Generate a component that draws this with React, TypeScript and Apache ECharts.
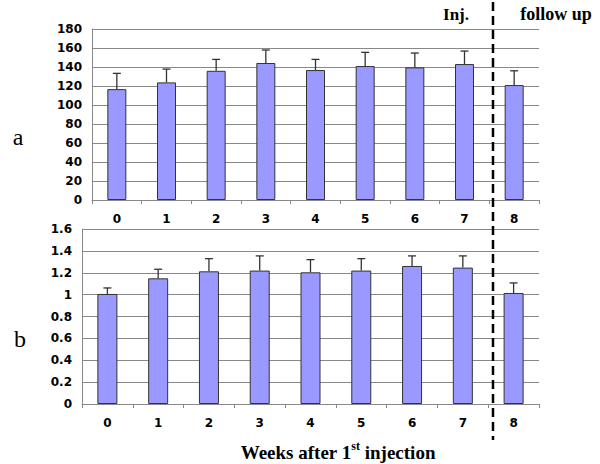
import React, { useEffect, useRef } from "react";
import * as echarts from "echarts";

const weeks = ["0", "1", "2", "3", "4", "5", "6", "7", "8"];
const meanA = [116.7, 123.8, 136, 144.2, 136.8, 141, 139.6, 143.1, 121];
const errA = [16.6, 14, 12, 13.7, 11.2, 14.4, 15.1, 13.7, 15];
const meanB = [1.006, 1.149, 1.213, 1.22, 1.204, 1.22, 1.262, 1.247, 1.015];
const errB = [0.055, 0.083, 0.116, 0.134, 0.116, 0.109, 0.092, 0.107, 0.092];

const GRID_GRAY = "#888888";
const BAR_FILL = "#9999FF";
const BAR_EDGE = "#333333";
const SANS = "'DejaVu Sans', Arial, sans-serif";
const SERIF = "'Liberation Serif', 'Times New Roman', serif";

function errorSeries(mean: number[], err: number[], idx: number) {
  return {
    type: "custom",
    xAxisIndex: idx,
    yAxisIndex: idx,
    z: 1,
    data: mean.map((m, i) => [i, m, m + err[i]]),
    renderItem: (params: any, api: any) => {
      const i = api.value(0);
      const base = api.coord([i, api.value(1)]);
      const top = api.coord([i, api.value(2)]);
      const half = 4;
      return {
        type: "group",
        children: [
          {
            type: "line",
            shape: { x1: base[0], y1: base[1], x2: top[0], y2: top[1] },
            style: { stroke: BAR_EDGE, lineWidth: 1.3 },
          },
          {
            type: "line",
            shape: { x1: top[0] - half, y1: top[1], x2: top[0] + half, y2: top[1] },
            style: { stroke: BAR_EDGE, lineWidth: 1.3 },
          },
        ],
      };
    },
  };
}

function xAxisCfg(gridIndex: number) {
  return {
    type: "category",
    gridIndex,
    data: weeks,
    axisLine: { show: true, lineStyle: { color: GRID_GRAY, width: 1 } },
    axisTick: { show: true, length: 4, lineStyle: { color: GRID_GRAY } },
    axisLabel: {
      margin: 13,
      fontFamily: SANS,
      fontWeight: "bold",
      fontSize: 12,
      color: "#000",
    },
  };
}

function yAxisCfg(gridIndex: number, max: number, interval: number) {
  return {
    type: "value",
    gridIndex,
    min: 0,
    max,
    interval,
    axisLine: { show: true, lineStyle: { color: GRID_GRAY, width: 1 } },
    axisTick: { show: false },
    splitLine: { show: true, lineStyle: { color: GRID_GRAY, width: 1 } },
    axisLabel: {
      margin: 10,
      fontFamily: SANS,
      fontWeight: "bold",
      fontSize: 12,
      color: "#000",
    },
  };
}

export default function App() {
  const ref = useRef<HTMLDivElement>(null);
  useEffect(() => {
    if (!ref.current) return;
    const chart = echarts.init(ref.current, undefined, { renderer: "svg" });
    chart.setOption({
      animation: false,
      backgroundColor: "#ffffff",
      grid: [
        { left: 92, right: 61, top: 29, height: 171 },
        { left: 82, right: 61, top: 229, height: 175 },
      ],
      xAxis: [xAxisCfg(0), xAxisCfg(1)],
      yAxis: [yAxisCfg(0, 180, 20), yAxisCfg(1, 1.6, 0.2)],
      series: [
        {
          type: "bar",
          xAxisIndex: 0,
          yAxisIndex: 0,
          data: meanA,
          barWidth: 19,
          z: 2,
          itemStyle: { color: BAR_FILL, borderColor: BAR_EDGE, borderWidth: 1 },
        },
        errorSeries(meanA, errA, 0),
        {
          type: "bar",
          xAxisIndex: 1,
          yAxisIndex: 1,
          data: meanB,
          barWidth: 20,
          z: 2,
          itemStyle: { color: BAR_FILL, borderColor: BAR_EDGE, borderWidth: 1 },
        },
        errorSeries(meanB, errB, 1),
      ],
      graphic: [
        {
          type: "line",
          shape: { x1: 493, y1: 2, x2: 493, y2: 440 },
          style: { stroke: "#000", lineWidth: 2.5, lineDash: [9, 5] },
          z: 10,
        },
        {
          type: "text",
          x: 456,
          y: 14,
          style: {
            text: "Inj.",
            font: `bold 17px ${SERIF}`,
            fill: "#000",
            align: "center",
            verticalAlign: "middle",
          },
        },
        {
          type: "text",
          x: 556,
          y: 14,
          style: {
            text: "follow up",
            font: `bold 18px ${SERIF}`,
            fill: "#000",
            align: "center",
            verticalAlign: "middle",
          },
        },
        {
          type: "text",
          x: 18,
          y: 137,
          style: {
            text: "a",
            font: `24px ${SERIF}`,
            fill: "#000",
            align: "center",
            verticalAlign: "middle",
          },
        },
        {
          type: "text",
          x: 20,
          y: 339,
          style: {
            text: "b",
            font: `24px ${SERIF}`,
            fill: "#000",
            align: "center",
            verticalAlign: "middle",
          },
        },
        {
          type: "text",
          x: 338,
          y: 451,
          style: {
            text: "{m|Weeks after 1}{s|st}{m| injection}",
            align: "center",
            verticalAlign: "middle",
            fill: "#000",
            rich: {
              m: {
                fontFamily: SERIF,
                fontWeight: "bold",
                fontSize: 19,
                lineHeight: 22,
                verticalAlign: "bottom",
              },
              s: {
                fontFamily: SERIF,
                fontWeight: "bold",
                fontSize: 12,
                lineHeight: 22,
                verticalAlign: "top",
                padding: [0, 0, 8, 0],
              },
            },
          },
        },
      ],
    });
    return () => chart.dispose();
  }, []);
  return (
    <div
      ref={ref}
      style={{ position: "absolute", left: 0, top: 0, width: 600, height: 464 }}
    />
  );
}
